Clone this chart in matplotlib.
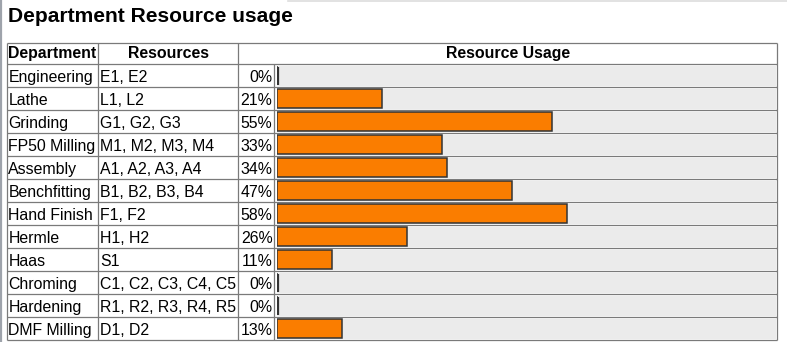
import matplotlib
matplotlib.use('Agg')
import matplotlib.pyplot as plt

plt.rcParams['font.family'] = ['Liberation Sans', 'DejaVu Sans']

# Table data
departments = ['Engineering', 'Lathe', 'Grinding', 'FP50 Milling', 'Assembly', 'Benchfitting',
               'Hand Finish', 'Hermle', 'Haas', 'Chroming', 'Hardening', 'DMF Milling']
resources = ['E1, E2', 'L1, L2', 'G1, G2, G3', 'M1, M2, M3, M4', 'A1, A2, A3, A4', 'B1, B2, B3, B4',
             'F1, F2', 'H1, H2', 'S1', 'C1, C2, C3, C4, C5', 'R1, R2, R3, R4, R5', 'D1, D2']
usage = [0, 21, 55, 33, 34, 47, 58, 26, 11, 0, 0, 13]
headers = ['Department', 'Resources', 'Resource Usage']
title = 'Department Resource usage'

W, H = 787, 352
fig = plt.figure(figsize=(W / 100, H / 100), dpi=100)
ax = fig.add_axes([0, 0, 1, 1])
ax.set_xlim(0, W)
ax.set_ylim(H, 0)
ax.axis('off')

# layout in pixels
col_x = [6.7, 98.3, 238.3, 274.3, 777.3]
head_top, head_bot = 43.3, 64.3
row_h = 23.0
n = len(departments)
tab_bot = head_bot + n * row_h
grid_c = '#7a7a7a'
lw = 0.9
fs = 11.4

# page edges
ax.plot([1, 1], [0, 342], color='#9ea3ab', lw=1.6, solid_capstyle='butt')
ax.plot([288, W], [1, 1], color='#dddddd', lw=1.2)

ax.text(8, 21.7, title, fontsize=15.1, fontweight='bold', va='baseline', ha='left')

# bar column axes
bx0, bx1 = 276.5, 776.5
bax = fig.add_axes([bx0 / W, (H - tab_bot) / H, (bx1 - bx0) / W, (tab_bot - head_bot) / H])
bax.set_xlim(0, 100)
bax.set_ylim(n - 0.5, -0.5)
bax.axis('off')
rows = list(range(n))
bax.barh(rows, [100] * n, height=0.89, color='#ebebeb', edgecolor='none')
bax.barh(rows, usage, height=0.83, color='#fa7d00', edgecolor='#333333', linewidth=1.1)
# empty bars show as a dark tick at the start
zero_rows = [r for r, v in zip(rows, usage) if v == 0]
bax.vlines([0.3] * len(zero_rows), [r - 0.4 for r in zero_rows], [r + 0.4 for r in zero_rows],
           colors='#333333', lw=1.6)

# grid lines
ys = [head_top, head_bot] + [head_bot + row_h * (i + 1) for i in range(n)]
ax.hlines(ys, col_x[0], col_x[-1], colors=grid_c, lw=lw)
ax.vlines([col_x[0], col_x[1], col_x[2], col_x[-1]], head_top, tab_bot, colors=grid_c, lw=lw)
ax.vlines(col_x[3], head_bot, tab_bot, colors=grid_c, lw=lw)

# header
hb = head_top + 15
ax.text(8.3, hb, headers[0], fontsize=fs, fontweight='bold', va='baseline', ha='left')
ax.text((col_x[1] + col_x[2]) / 2, hb, headers[1], fontsize=fs, fontweight='bold', va='baseline', ha='center')
ax.text((col_x[2] + col_x[4]) / 2, hb, headers[2], fontsize=fs, fontweight='bold', va='baseline', ha='center')

# rows
for i in range(n):
    yb = head_bot + row_h * i + 17.4
    ax.text(8.3, yb, departments[i], fontsize=fs, va='baseline', ha='left')
    ax.text(100, yb, resources[i], fontsize=fs, va='baseline', ha='left')
    ax.text(272.5, yb, f'{usage[i]}%', fontsize=fs, va='baseline', ha='right')

fig.savefig('out.png', dpi=100)
